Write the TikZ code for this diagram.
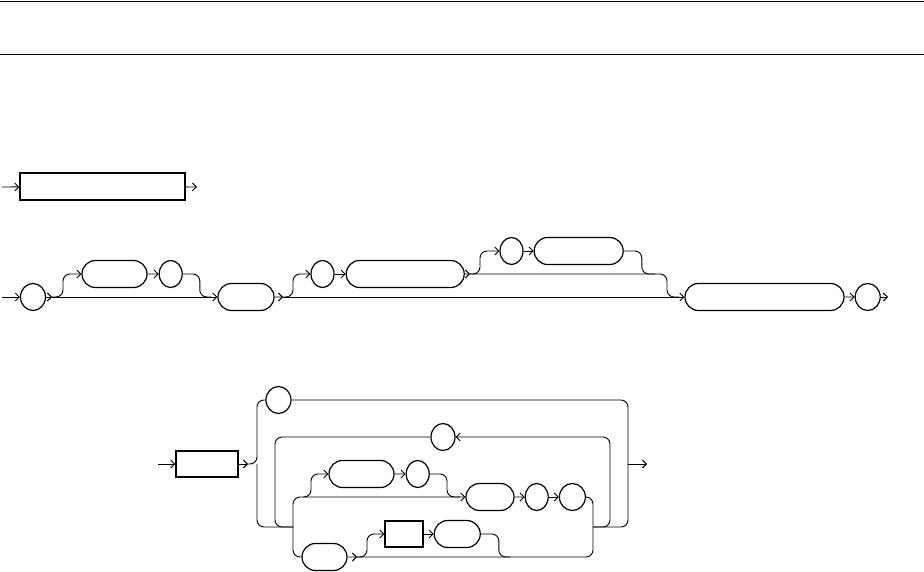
\documentclass[tikz,border=0pt]{standalone}
\usetikzlibrary{positioning, shapes.misc, shapes.geometric, arrows.meta, calc}

\begin{document}
\begin{tikzpicture}[x=1pt, y=-1pt,
    rail/.style={line width=0.9pt, rounded corners=7pt},
    term/.style={draw, rounded rectangle, line width=1.2pt, minimum height=27pt, inner sep=0pt},
    punct/.style={draw, ellipse, line width=1.2pt, minimum width=24pt, minimum height=27pt, inner sep=0pt},
    nonterm/.style={draw, rectangle, line width=1.3pt, minimum height=26pt, inner sep=0pt},
    >={Straight Barb[length=4pt,width=8pt]}
]
\useasboundingbox (0,0) rectangle (924,572);
\draw[line width=0.9pt] (0,1) -- (924,1);
\draw[line width=0.9pt] (0,54) -- (924,54);

% first rule
\node[nonterm, minimum width=165pt, minimum height=27pt] (d1box) at (102.5,186.5) {};
\coordinate (d1in) at (2,187);
\coordinate (d1out) at (197,187);
\draw[rail,->] (d1in) -- (d1box);
\draw[rail,->] (d1box) -- (d1out);

% second rule
\node[punct, minimum width=25pt] (c1) at (33,297) {};
\node[term, minimum width=65pt] (k1) at (114.5,274) {};
\node[punct, minimum width=23pt, right=11pt of k1] (c2) {};
\node[term, minimum width=56pt] (k2) at (246,297) {};
\node[punct, minimum width=23pt] (c3) at (322.5,274) {};
\node[term, minimum width=118pt, right=11pt of c3] (k3) {};
\node[punct, minimum width=23pt] (c4) at (511.5,251) {};
\node[term, minimum width=89pt, right=10pt of c4] (k4) {};
\node[term, minimum width=159pt] (k5) at (764.5,297) {};
\node[punct, minimum width=25pt, right=10pt of k5] (c5) {};

\coordinate (d2in) at (2,297);
\coordinate (s1) at (52,297);
\coordinate (s2) at (283,297);
\coordinate (s3) at (470,274);
\coordinate (d2out) at (888,297);

\draw[rail,->] (d2in) -- (c1);
\draw[rail,->] (c1) -- (s1);
\draw[rail,->] (s1) -- (k2);
\draw[rail,->] (s1) -- ++(11,0) |- (k1.west);
\draw[rail,->] (k1) -- (c2);
\draw[rail] (c2.east) -- ++(17,0) |- ($(k2.west)+(-6,0)$);
\draw[rail,->] (k2) -- (s2);
\draw[rail,->] (s2) -- (k5.west);
\draw[rail,->] (s2) -- ++(10,0) |- (c3.west);
\draw[rail,->] (c3) -- (k3);
\draw[rail,->] (k3) -- (s3);
\draw[rail,->] (s3) -- ++(10,0) |- (c4.west);
\draw[rail,->] (c4) -- (k4);
\draw[rail] (k4.east) -- ++(18,0) |- (655,274);
\draw[rail] (s3) -- (667,274) |- ($(k5.west)+(-5,0)$);
\draw[rail,->] (k5) -- (c5);
\draw[rail,->] (c5) -- (d2out);

% third rule
\node[nonterm, minimum width=62pt] (b1) at (207,464) {};
\node[punct, minimum width=25pt] (c6) at (278.5,400) {};
\node[punct, minimum width=24pt] (c7) at (443,437) {};
\node[term, minimum width=65pt] (k6) at (361.5,474) {};
\node[punct, minimum width=23pt, right=11pt of k6] (c8) {};
\node[term, minimum width=48pt] (k7) at (490,497) {};
\node[punct, minimum width=23pt, right=10pt of k7] (c9) {};
\node[punct, minimum width=26pt, right=10pt of c9] (c10) {};
\node[term, minimum width=45pt] (k9) at (324.5,557) {};
\node[nonterm, minimum width=38pt] (b2) at (404,534) {};
\node[term, minimum width=46pt, right=10pt of b2] (k8) {};

\coordinate (d3in) at (158,464);
\coordinate (s4) at (248,464);
\coordinate (j1) at (257,464);
\coordinate (j2) at (293,527);
\coordinate (j3) at (593,527);
\coordinate (j4) at (628,464);
\coordinate (s5) at (357,557);
\coordinate (d3out) at (647,464);

\draw[rail,->] (d3in) -- (b1);
\draw[rail,->] (b1) -- (s4);
\draw[rail] (s4) -- (j1) |- (c6.west);
\draw[rail] (j1) |- (j2);
\draw[rail] (c6.east) -| (628,527) -- (j3);
\draw[rail,->] (j4) -- (d3out);
\draw[rail,->] (j3) -| (610,437) -- (c7.east);
\draw[rail] (c7.west) -| (275,527) -- (j2);
\draw[rail,->] (j2) |- (k7.west);
\draw[rail] (j2) |- (k9.west);
\draw[rail,->] (303,497) -- (311,497) -- (311,474) -- (k6.west);
\draw[rail,->] (k6) -- (c8);
\draw[rail] (c8.east) -- (447,474) -- (447,497) -- (460,497);
\draw[rail,->] (k7) -- (c9);
\draw[rail,->] (c9) -- (c10);
\draw[rail] (c10.east) -| (593,557) -- (s5);
\draw[rail,->] (k9) -- (s5);
\draw[rail,->] (s5) -- ++(10,0) |- (b2.west);
\draw[rail,->] (b2) -- (k8);
\draw[rail] (k8.east) -- ++(18,0) |- (510,557);
\end{tikzpicture}
\end{document}
